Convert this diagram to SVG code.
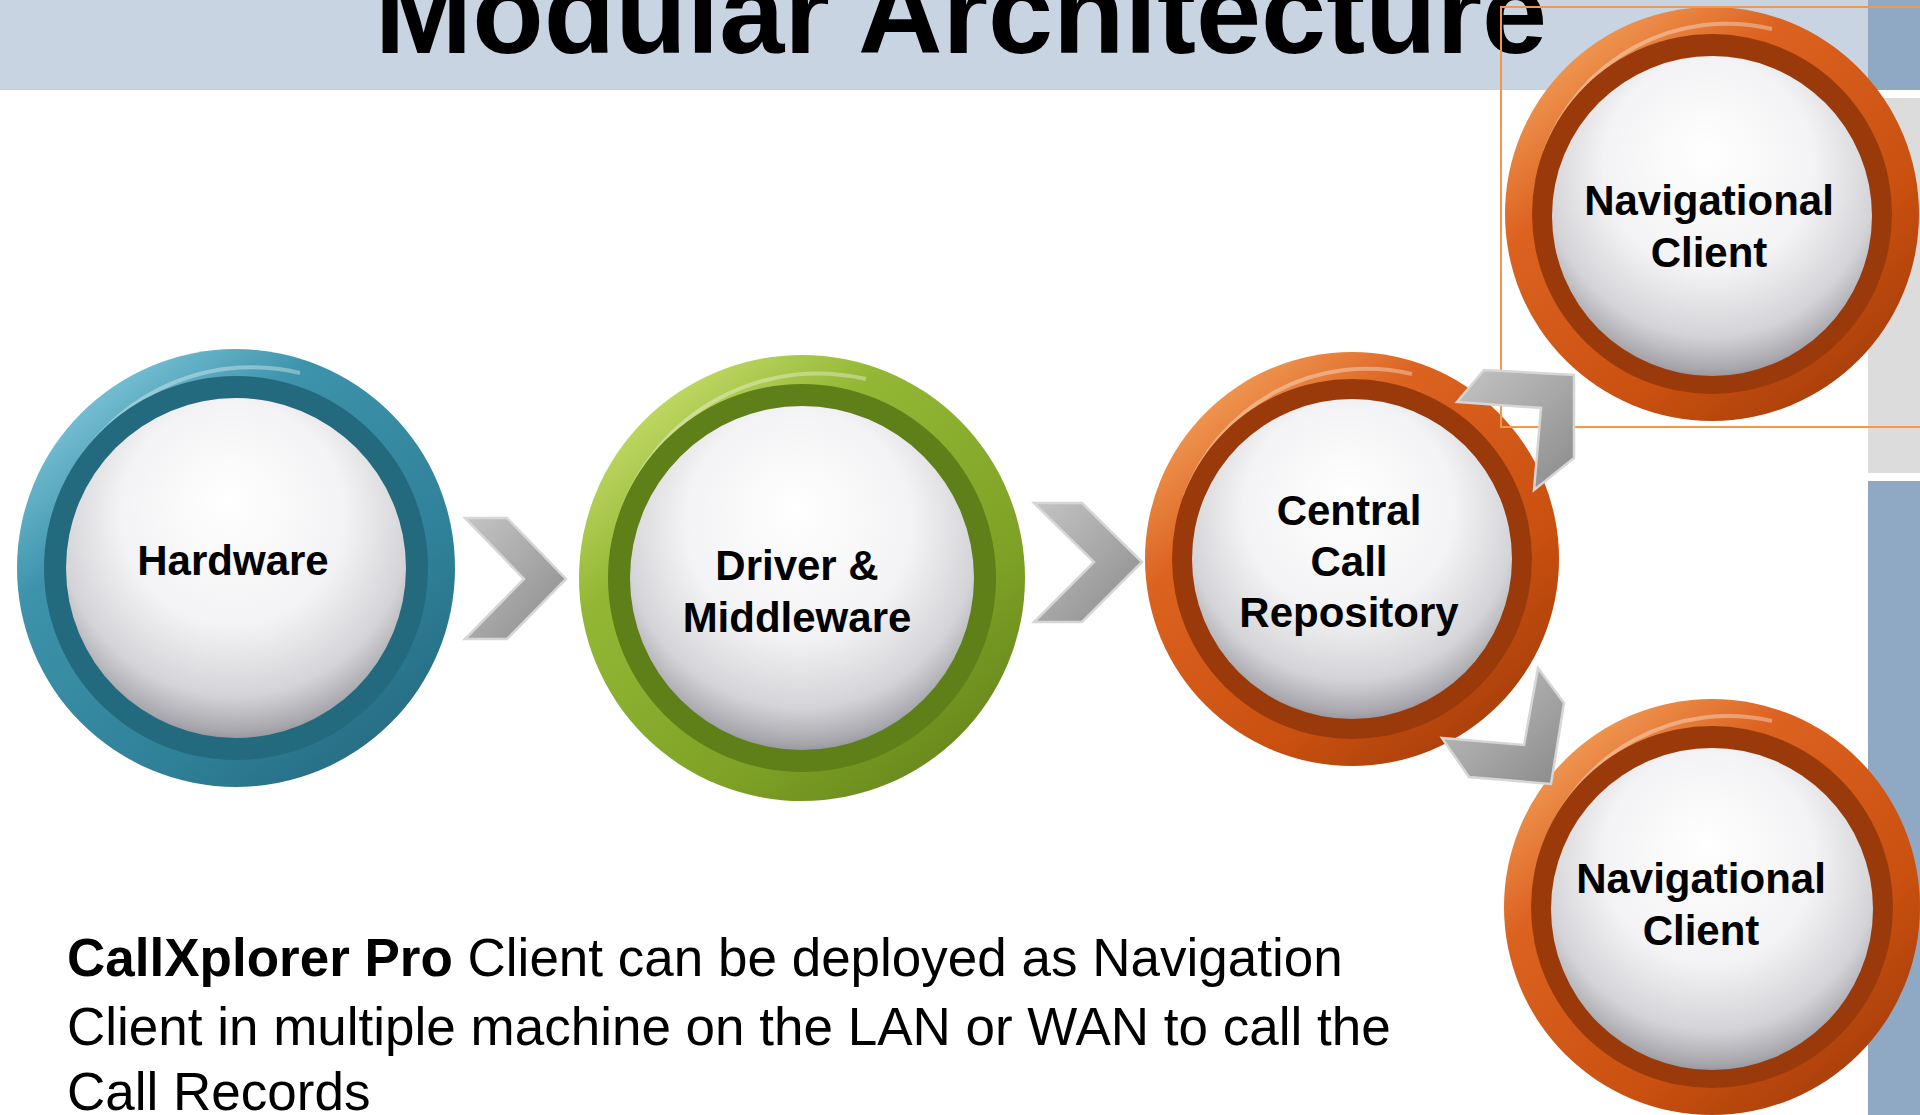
<svg xmlns="http://www.w3.org/2000/svg" width="1920" height="1115" viewBox="0 0 1920 1115">
<style>
.lbl{font-family:"Liberation Sans",Arial,sans-serif;font-weight:bold;font-size:42px;fill:#000;text-anchor:middle}
.title{font-family:"Liberation Sans",Arial,sans-serif;font-weight:bold;font-size:117px;fill:#000;text-anchor:middle}
.body{font-family:"Liberation Sans",Arial,sans-serif;font-size:53px;fill:#000}
.chev{fill:url(#gChev);stroke:#d6d6d6;stroke-width:2.5;stroke-linejoin:miter}
.disc{fill:url(#gDisc)}
.hl{fill:none;stroke:#ffffff;stroke-opacity:0.35;stroke-width:4}
</style>
<defs>
<radialGradient id="gDisc" cx="0.5" cy="0.38" r="0.66" fx="0.48" fy="0.3">
<stop offset="0" stop-color="#ffffff"/>
<stop offset="0.5" stop-color="#f3f3f5"/>
<stop offset="0.78" stop-color="#d4d4d8"/>
<stop offset="0.92" stop-color="#a6a6ac"/>
<stop offset="1" stop-color="#7e7e84"/>
</radialGradient>
<linearGradient id="gOr" x1="0.15" y1="0.1" x2="0.85" y2="0.95">
<stop offset="0" stop-color="#f09a55"/>
<stop offset="0.25" stop-color="#dc6220"/>
<stop offset="0.7" stop-color="#c9500f"/>
<stop offset="1" stop-color="#a53d0a"/>
</linearGradient>
<linearGradient id="gTe" x1="0.15" y1="0.1" x2="0.85" y2="0.95">
<stop offset="0" stop-color="#79c2d6"/>
<stop offset="0.25" stop-color="#3d93ab"/>
<stop offset="0.7" stop-color="#2f8199"/>
<stop offset="1" stop-color="#256b80"/>
</linearGradient>
<linearGradient id="gGr" x1="0.15" y1="0.1" x2="0.85" y2="0.95">
<stop offset="0" stop-color="#c2da66"/>
<stop offset="0.25" stop-color="#93b735"/>
<stop offset="0.7" stop-color="#7fa226"/>
<stop offset="1" stop-color="#66861b"/>
</linearGradient>
<linearGradient id="gChev" x1="0" y1="0" x2="1" y2="1">
<stop offset="0" stop-color="#c4c4c4"/>
<stop offset="0.5" stop-color="#a8a8a8"/>
<stop offset="1" stop-color="#8a8a8a"/>
</linearGradient>
</defs>

<g id="background">
<rect x="0" y="0" width="1868" height="90" fill="#c8d4e2"/>
<rect x="1868" y="0" width="52" height="90" fill="#8fa8c4"/>
<rect x="1868" y="98" width="52" height="375" fill="#dcdcdc"/>
<rect x="1868" y="481" width="52" height="634" fill="#8fa8c4"/>
</g>

<g id="title">
<text class="title" x="961" y="53">Modular Architecture</text>
</g>

<g id="node-hardware">
<circle cx="236" cy="568" r="219" fill="url(#gTe)"/>
<path class="hl" d="M 60 500 A 205 205 0 0 1 300 373"/>
<circle cx="236" cy="568" r="192" fill="#246a7e"/>
<circle cx="236" cy="568" r="170" class="disc"/>
<text class="lbl" x="233" y="575">Hardware</text>
</g>

<g id="node-driver">
<circle cx="802" cy="578" r="223" fill="url(#gGr)"/>
<path class="hl" d="M 622 510 A 209 209 0 0 1 866 379"/>
<circle cx="802" cy="578" r="194" fill="#5f7f19"/>
<circle cx="802" cy="578" r="172" class="disc"/>
<text class="lbl" x="797" y="580">Driver &amp;</text>
<text class="lbl" x="797" y="632">Middleware</text>
</g>

<g id="node-central">
<circle cx="1352" cy="559" r="207" fill="url(#gOr)"/>
<path class="hl" d="M 1185 496 A 194 194 0 0 1 1412 374"/>
<circle cx="1352" cy="559" r="180" fill="#9a3a0a"/>
<circle cx="1352" cy="559" r="160" class="disc"/>
<text class="lbl" x="1349" y="525">Central</text>
<text class="lbl" x="1349" y="576">Call</text>
<text class="lbl" x="1349" y="627">Repository</text>
</g>

<g id="node-nav-top">
<circle cx="1712" cy="214" r="207" fill="url(#gOr)"/>
<path class="hl" d="M 1545 151 A 194 194 0 0 1 1772 29"/>
<circle cx="1712" cy="214" r="180" fill="#9a3a0a"/>
<circle cx="1712" cy="216" r="160" class="disc"/>
<text class="lbl" x="1709" y="215">Navigational</text>
<text class="lbl" x="1709" y="267">Client</text>
</g>

<g id="node-nav-bottom">
<circle cx="1712" cy="907" r="208" fill="url(#gOr)"/>
<path class="hl" d="M 1545 844 A 195 195 0 0 1 1772 721"/>
<circle cx="1712" cy="907" r="181" fill="#9a3a0a"/>
<circle cx="1712" cy="909" r="161" class="disc"/>
<text class="lbl" x="1701" y="893">Navigational</text>
<text class="lbl" x="1701" y="945">Client</text>
</g>

<rect id="selection" x="1501" y="7" width="430" height="420" fill="none" stroke="#f79646" stroke-width="2"/>

<g id="connectors">
<polygon class="chev" points="465,518 507,518 566,579 507,639 465,639 524,579"/>
<polygon class="chev" points="1034,503 1082,503 1142,562 1082,622 1034,622 1094,562"/>
<polygon class="chev" points="1457,402 1484,370 1574,375 1574,458 1534,490 1541,408"/>
<polygon class="chev" points="1442,738 1524,745 1538,668 1564,703 1551,784 1469,777"/>
</g>

<g id="caption">
<text class="body" x="67" y="976"><tspan font-weight="bold">CallXplorer Pro</tspan> Client can be deployed as Navigation</text>
<text class="body" x="67" y="1045">Client in multiple machine on the LAN or WAN to call the</text>
<text class="body" x="67" y="1110">Call Records</text>
</g>
</svg>
